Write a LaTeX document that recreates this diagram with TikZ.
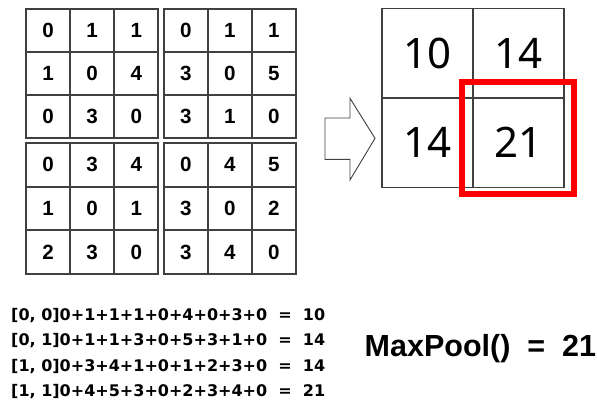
\documentclass[tikz,border=0pt]{standalone}
\usepackage{fontspec}
\setmainfont{Noto Sans}
\newfontfamily\boldsans{Liberation Sans}
\newfontfamily\calcfont{DejaVu Sans}
\definecolor{gridgray}{HTML}{404040}
\begin{document}
\begin{tikzpicture}[x=1pt,y=-1pt,
  cell/.style={draw=gridgray, line width=2, minimum width=44.1, minimum height=43, inner sep=0,
    font=\boldsans\bfseries\fontsize{20.6}{24}\selectfont},
  bigcell/.style={draw=gridgray, line width=1.5, minimum width=91, minimum height=89.5, inner sep=0,
    font=\fontsize{42}{48}\selectfont},
  calc/.style={anchor=base west, inner sep=0, font=\calcfont\bfseries\fontsize{16}{18}\selectfont},
  hilite/.style={draw=red, line width=6, minimum width=111.4, minimum height=111.4, inner sep=0},
  blockarrow/.style={draw=gridgray, line width=0.9, fill=white, line join=miter}
]
\useasboundingbox (0,0) rectangle (597,405);
% input blocks
\foreach \name/\x/\y/\h/\vals in {tl/26/9.3/43/{0,1,1,1,0,4,0,3,0},
                               tr/163.7/9.3/43/{0,1,1,3,0,5,3,1,0},
                               bl/26/142.7/43.8/{0,3,4,1,0,1,2,3,0},
                               br/163.7/142.7/43.8/{0,4,5,3,0,2,3,4,0}}{
  \foreach \v [count=\i from 0] in \vals {
    \pgfmathtruncatemacro{\r}{int(\i/3)}
    \pgfmathtruncatemacro{\c}{mod(\i,3)}
    \node[cell, minimum height=\h] (\name-\r-\c) at ({\x+44.1*(\c+0.5)},{\y+\h*(\r+0.5)}) {\v};
  }
}
% arrow
\draw[blockarrow] (325,118) -- (350,118) -- (350,98.3) -- (375,138.3) -- (350,180) -- (350,159.3) -- (325,159.3) -- cycle;
% output grid
\node[bigcell] (o00) at (427.5,53) {10};
\node[bigcell] (o01) at (518.5,53) {14};
\node[bigcell] (o10) at (427.5,142.5) {14};
\node[bigcell] (o11) at (518.5,142.5) {21};
\node[hilite] (hl) at (518,138) {};
% calculations
\node[calc] (l1) at (11,320) {[0, 0]0+1+1+1+0+4+0+3+0\ \ =\ \ 10};
\node[calc] (l2) at (11,345.6) {[0, 1]0+1+1+3+0+5+3+1+0\ \ =\ \ 14};
\node[calc] (l3) at (11,371.3) {[1, 0]0+3+4+1+0+1+2+3+0\ \ =\ \ 14};
\node[calc] (l4) at (11,396.5) {[1, 1]0+4+5+3+0+2+3+4+0\ \ =\ \ 21};
\node[anchor=base west, inner sep=0, font=\boldsans\bfseries\fontsize{30.5}{34}\selectfont] (mp) at (364.5,356.7) {MaxPool()\hspace{17pt}=\hspace{17pt}21};
\end{tikzpicture}
\end{document}
